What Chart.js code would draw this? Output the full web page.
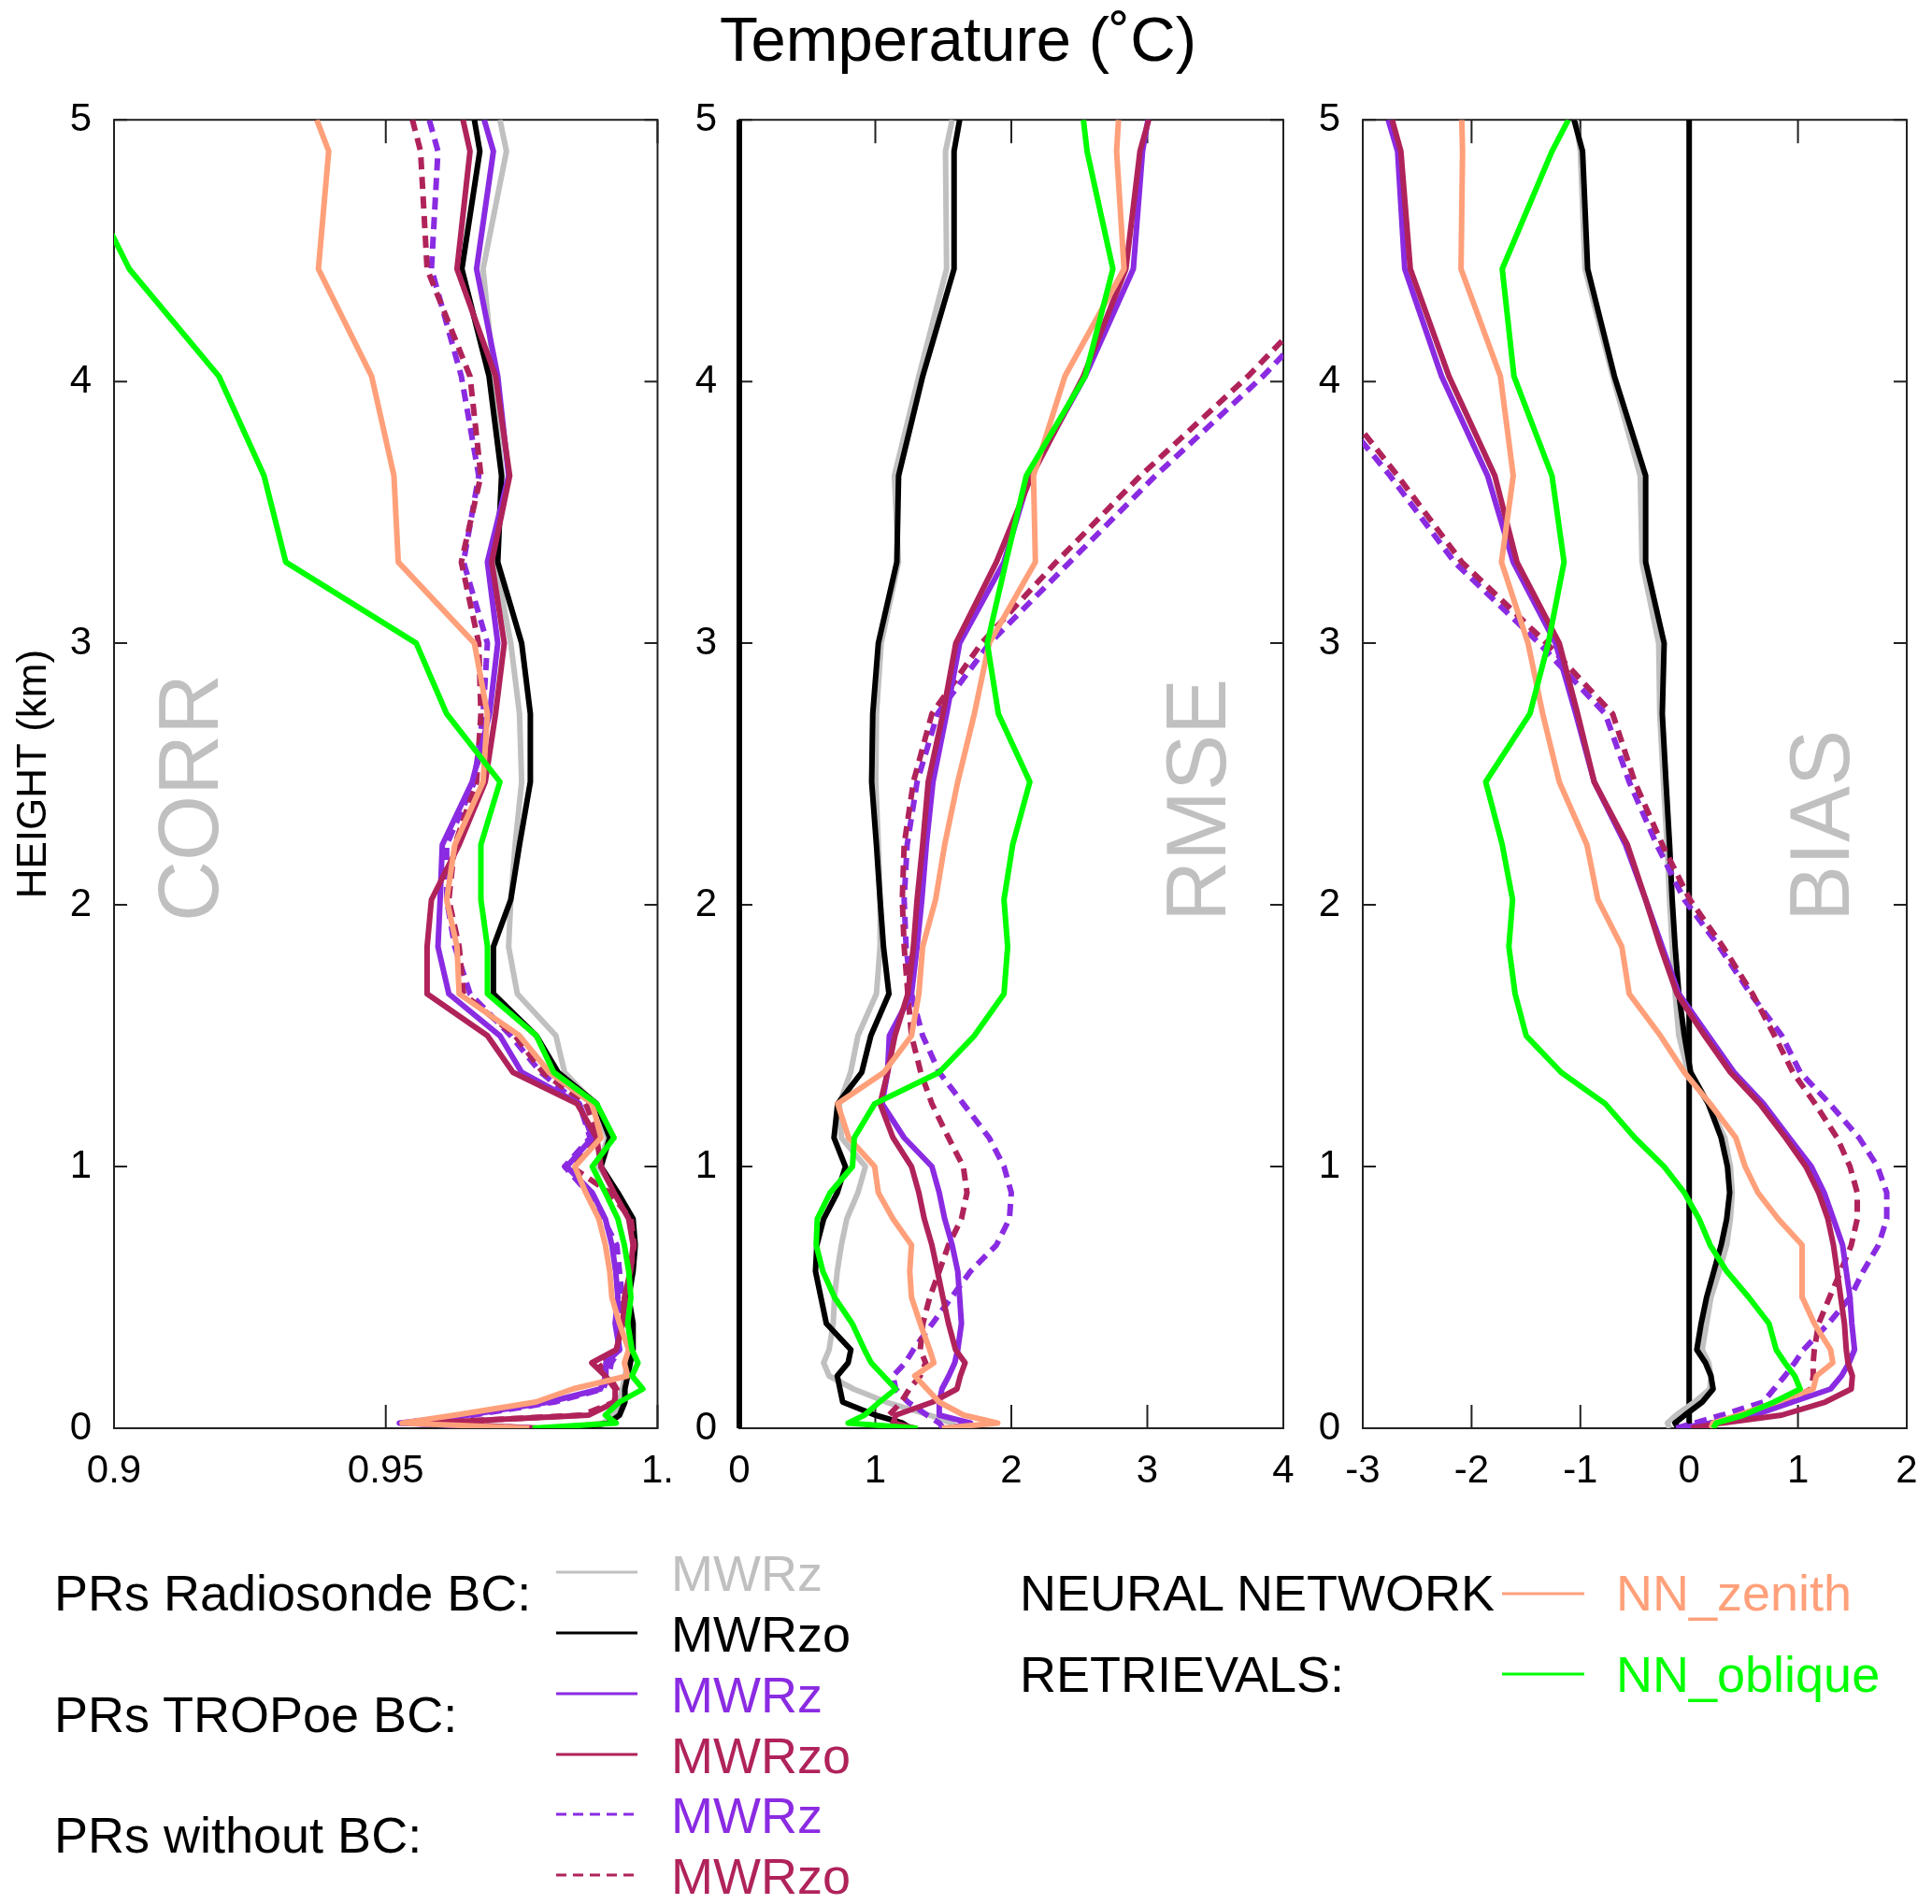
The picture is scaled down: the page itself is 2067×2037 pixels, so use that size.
<!DOCTYPE html>
<html>
<head>
<meta charset="utf-8">
<script src="https://cdn.jsdelivr.net/npm/chart.js@4.4.1/dist/chart.umd.min.js"></script>
<style>
  body { margin:0; background:#fff; width:2067px; height:2037px; position:relative; overflow:hidden;
         font-family:"Liberation Sans", Arial, sans-serif; }
  canvas { position:absolute; top:87px; }
  .t { position:absolute; white-space:nowrap; font-size:54px; line-height:54px; color:#000; }
  svg { position:absolute; left:0; top:0; }
</style>
</head>
<body>

<div class="t" style="left:0; width:2050px; text-align:center; top:8px; font-size:67px; line-height:67px;">Temperature (˚C)</div>

<canvas id="corr"></canvas>
<canvas id="rmse"></canvas>
<canvas id="bias"></canvas>

<!-- legend -->
<svg width="2067" height="2037">
  <line x1="595" y1="1682" x2="682" y2="1682" stroke="#c0c0c0" stroke-width="3"/>
  <line x1="595" y1="1747" x2="682" y2="1747" stroke="#000000" stroke-width="3"/>
  <line x1="595" y1="1812" x2="682" y2="1812" stroke="#8a2be2" stroke-width="3"/>
  <line x1="595" y1="1877" x2="682" y2="1877" stroke="#b0235a" stroke-width="3"/>
  <line x1="595" y1="1941" x2="682" y2="1941" stroke="#8a2be2" stroke-width="3" stroke-dasharray="11 7"/>
  <line x1="595" y1="2006" x2="682" y2="2006" stroke="#b0235a" stroke-width="3" stroke-dasharray="11 7"/>
  <line x1="1607" y1="1705" x2="1695" y2="1705" stroke="#ffa07a" stroke-width="3"/>
  <line x1="1607" y1="1791" x2="1695" y2="1791" stroke="#00ff00" stroke-width="3"/>
</svg>
<div class="t" style="left:58px; top:1677px;">PRs Radiosonde BC:</div>
<div class="t" style="left:58px; top:1807px;">PRs TROPoe BC:</div>
<div class="t" style="left:58px; top:1936px;">PRs without BC:</div>
<div class="t" style="left:718px; top:1656px; color:#c0c0c0;">MWRz</div>
<div class="t" style="left:718px; top:1721px;">MWRzo</div>
<div class="t" style="left:718px; top:1786px; color:#8a2be2;">MWRz</div>
<div class="t" style="left:718px; top:1851px; color:#b0235a;">MWRzo</div>
<div class="t" style="left:718px; top:1915px; color:#8a2be2;">MWRz</div>
<div class="t" style="left:718px; top:1980px; color:#b0235a;">MWRzo</div>
<div class="t" style="left:1091px; top:1677px;">NEURAL NETWORK</div>
<div class="t" style="left:1091px; top:1764px;">RETRIEVALS:</div>
<div class="t" style="left:1729px; top:1677px; color:#ffa07a;">NN_zenith</div>
<div class="t" style="left:1729px; top:1764px; color:#00ff00;">NN_oblique</div>

<script>
/* ---------- data ---------- */
// profile levels (km), shared by every series
const heights = [0, 0.02, 0.05, 0.1, 0.15, 0.2, 0.25, 0.3, 0.4, 0.5, 0.6, 0.7, 0.8, 0.9, 1.0, 1.11, 1.24, 1.36,
                 1.5, 1.66, 1.84, 2.02, 2.23, 2.47, 2.73, 3.0, 3.31, 3.64, 4.02, 4.43, 4.88, 5.0];

const heightTicks = [0, 1, 2, 3, 4, 5];
const corrTicks = [0.9, 0.95, 1.0];
const corrTickLabels = ['0.9', '0.95', '1.'];
const rmseTicks = [0, 1, 2, 3, 4];
const rmseTickLabels = ['0', '1', '2', '3', '4'];
const biasTicks = [-3, -2, -1, 0, 1, 2];
const biasTickLabels = ['-3', '-2', '-1', '0', '1', '2'];

// CORR
const corrRadZ   = [0.982, 0.99, 0.992, 0.993, 0.9935, 0.994, 0.9945, 0.995, 0.995, 0.9945, 0.9952, 0.9957, 0.9947, 0.9923, 0.9892, 0.9908, 0.9884, 0.9829, 0.9813, 0.9742, 0.9726, 0.973, 0.9738, 0.975, 0.9746, 0.973, 0.9702, 0.9714, 0.9699, 0.9679, 0.9722, 0.971];
const corrRadZO  = [0.985, 0.991, 0.993, 0.994, 0.994, 0.9945, 0.995, 0.9955, 0.9955, 0.9947, 0.9955, 0.9959, 0.9955, 0.9927, 0.9896, 0.9912, 0.9888, 0.9817, 0.9777, 0.9698, 0.9698, 0.973, 0.9746, 0.9766, 0.9766, 0.975, 0.9706, 0.9713, 0.969, 0.964, 0.9673, 0.9663];
const corrTropZ  = [0.9765, 0.9525, 0.965, 0.98, 0.9895, 0.9905, 0.9905, 0.993, 0.9922, 0.9927, 0.9923, 0.9916, 0.9904, 0.988, 0.9833, 0.988, 0.9856, 0.975, 0.971, 0.9616, 0.9596, 0.96, 0.9604, 0.9659, 0.9691, 0.9706, 0.9687, 0.9726, 0.9706, 0.9667, 0.9698, 0.9681];
const corrTropZO = [0.978, 0.9569, 0.9873, 0.9922, 0.9922, 0.9904, 0.9879, 0.9924, 0.9936, 0.9939, 0.995, 0.9955, 0.9947, 0.992, 0.9896, 0.9888, 0.9852, 0.9734, 0.9687, 0.9576, 0.9576, 0.9584, 0.9635, 0.9683, 0.9702, 0.9718, 0.9695, 0.9728, 0.9702, 0.9631, 0.9655, 0.9642];
const corrRawZ   = [0.9765, 0.953, 0.966, 0.981, 0.99, 0.991, 0.9915, 0.993, 0.9925, 0.9935, 0.993, 0.9925, 0.99, 0.9872, 0.9829, 0.9876, 0.9856, 0.9785, 0.973, 0.9655, 0.9627, 0.9612, 0.9612, 0.9663, 0.9679, 0.9687, 0.9643, 0.9671, 0.9639, 0.9584, 0.9596, 0.958];
const corrRawZO  = [0.978, 0.9575, 0.986, 0.992, 0.9925, 0.991, 0.989, 0.9925, 0.9935, 0.9943, 0.995, 0.9957, 0.9951, 0.9912, 0.9841, 0.9892, 0.9868, 0.9789, 0.9738, 0.9643, 0.9635, 0.9616, 0.9627, 0.9667, 0.9675, 0.9671, 0.9639, 0.9675, 0.9655, 0.9576, 0.9564, 0.9549];
const corrNNz    = [0.9764, 0.953, 0.9627, 0.9776, 0.9844, 0.9945, 0.9939, 0.9947, 0.993, 0.9916, 0.9912, 0.9904, 0.9892, 0.9868, 0.9848, 0.9896, 0.988, 0.9801, 0.9746, 0.9635, 0.9631, 0.9612, 0.9627, 0.9679, 0.9687, 0.9663, 0.9523, 0.9515, 0.9474, 0.9376, 0.9395, 0.9373];
const corrNNo    = [0.977, 0.9924, 0.9904, 0.993, 0.9973, 0.9953, 0.9964, 0.9953, 0.9945, 0.9951, 0.9947, 0.9939, 0.9927, 0.9904, 0.988, 0.992, 0.9888, 0.9809, 0.9777, 0.9687, 0.9687, 0.9675, 0.9675, 0.971, 0.9612, 0.9556, 0.9316, 0.9276, 0.9193, 0.9028, 0.892, 0.89];

// RMSE
const rmseRadZ   = [1.6, 1.56, 1.4, 1.08, 0.84, 0.66, 0.62, 0.66, 0.69, 0.7, 0.72, 0.75, 0.79, 0.872, 0.927, 0.75, 0.736, 0.818, 0.872, 1.008, 1.035, 1.035, 1.022, 1.003, 1.008, 1.043, 1.17, 1.14, 1.32, 1.524, 1.516, 1.565];
const rmseRadZO  = [1.26, 1.2, 1.0, 0.76, 0.74, 0.72, 0.8, 0.82, 0.64, 0.6, 0.56, 0.57, 0.62, 0.72, 0.78, 0.696, 0.723, 0.9, 0.967, 1.1, 1.06, 1.035, 1.008, 0.973, 0.981, 1.022, 1.158, 1.171, 1.348, 1.579, 1.579, 1.62];
const rmseTropZ  = [1.55, 1.7, 1.47, 1.47, 1.49, 1.54, 1.584, 1.606, 1.633, 1.62, 1.606, 1.565, 1.51, 1.47, 1.416, 1.212, 1.05, 1.09, 1.103, 1.266, 1.307, 1.342, 1.375, 1.424, 1.524, 1.62, 1.946, 2.136, 2.543, 2.897, 2.965, 3.005];
const rmseTropZO = [1.29, 1.13, 1.15, 1.42, 1.6, 1.625, 1.66, 1.59, 1.538, 1.497, 1.457, 1.416, 1.36, 1.32, 1.266, 1.13, 1.035, 1.09, 1.144, 1.239, 1.28, 1.307, 1.348, 1.389, 1.497, 1.592, 1.89, 2.15, 2.53, 2.842, 2.946, 3.01];
const rmseRawZ   = [1.5, 1.47, 1.38, 1.24, 1.15, 1.13, 1.22, 1.28, 1.42, 1.56, 1.7, 1.89, 1.986, 2.0, 1.946, 1.837, 1.647, 1.47, 1.348, 1.266, 1.226, 1.212, 1.234, 1.307, 1.457, 1.84, 2.43, 3.06, 3.85, 4.6, 5.3, 5.5];
const rmseRawZO  = [1.2, 1.15, 1.1, 1.19, 1.25, 1.33, 1.37, 1.33, 1.35, 1.4, 1.47, 1.538, 1.633, 1.674, 1.647, 1.538, 1.416, 1.334, 1.266, 1.239, 1.212, 1.198, 1.212, 1.28, 1.416, 1.78, 2.33, 2.95, 3.74, 4.5, 5.2, 5.4];
const rmseNNz    = [1.49, 1.9, 1.65, 1.47, 1.38, 1.29, 1.43, 1.4, 1.33, 1.266, 1.253, 1.266, 1.13, 1.022, 0.995, 0.804, 0.723, 1.063, 1.266, 1.32, 1.348, 1.443, 1.51, 1.606, 1.728, 1.837, 2.177, 2.163, 2.394, 2.829, 2.774, 2.788];
const rmseNNo    = [1.31, 0.8, 0.92, 1.03, 1.15, 1.06, 0.97, 0.92, 0.83, 0.7, 0.614, 0.565, 0.573, 0.668, 0.832, 0.845, 0.995, 1.47, 1.728, 1.946, 1.973, 1.946, 2.01, 2.136, 1.905, 1.823, 1.96, 2.11, 2.543, 2.747, 2.557, 2.53];

// BIAS
const biasRadZ   = [-0.18, -0.2, -0.12, 0.05, 0.19, 0.2, 0.18, 0.12, 0.16, 0.2, 0.277, 0.345, 0.379, 0.396, 0.379, 0.328, 0.176, -0.01, -0.095, -0.129, -0.156, -0.18, -0.203, -0.237, -0.27, -0.28, -0.433, -0.45, -0.703, -0.957, -1.0, -1.042];
const biasRadZO  = [-0.1, -0.13, -0.04, 0.12, 0.22, 0.2, 0.15, 0.07, 0.11, 0.16, 0.227, 0.294, 0.345, 0.372, 0.352, 0.294, 0.176, 0.014, -0.044, -0.095, -0.129, -0.156, -0.18, -0.213, -0.247, -0.23, -0.4, -0.4, -0.687, -0.933, -0.98, -1.058];
const biasTropZ  = [-0.09, 0.2, 0.6, 0.95, 1.3, 1.4, 1.47, 1.52, 1.495, 1.478, 1.444, 1.41, 1.326, 1.241, 1.123, 0.92, 0.683, 0.413, 0.176, -0.095, -0.247, -0.4, -0.585, -0.873, -1.042, -1.228, -1.617, -1.853, -2.276, -2.614, -2.68, -2.766];
const biasTropZO = [0.02, 0.3, 0.85, 1.25, 1.49, 1.5, 1.46, 1.444, 1.427, 1.393, 1.36, 1.326, 1.275, 1.19, 1.072, 0.886, 0.649, 0.379, 0.142, -0.112, -0.264, -0.4, -0.568, -0.873, -1.025, -1.194, -1.583, -1.786, -2.208, -2.563, -2.65, -2.73];
const biasRawZ   = [-0.12, 0.05, 0.3, 0.68, 0.78, 0.88, 0.97, 1.05, 1.28, 1.48, 1.6, 1.74, 1.816, 1.816, 1.731, 1.562, 1.292, 1.021, 0.852, 0.565, 0.277, -0.044, -0.298, -0.551, -0.771, -1.38, -2.158, -2.75, -3.5, -4.2, -4.9, -5.1];
const biasRawZO  = [0.0, 0.2, 0.6, 0.9, 1.12, 1.14, 1.14, 1.15, 1.19, 1.29, 1.393, 1.49, 1.545, 1.545, 1.478, 1.36, 1.157, 0.954, 0.785, 0.582, 0.311, 0.007, -0.247, -0.5, -0.703, -1.31, -2.09, -2.68, -3.4, -4.1, -4.8, -5.0];
const biasNNz    = [0.2, 0.22, 0.45, 0.8, 1.14, 1.17, 1.32, 1.3, 1.15, 1.04, 1.038, 1.038, 0.818, 0.632, 0.514, 0.429, 0.193, -0.044, -0.264, -0.551, -0.619, -0.839, -0.94, -1.194, -1.346, -1.481, -1.725, -1.617, -1.735, -2.097, -2.083, -2.09];
const biasNNo    = [0.22, 0.25, 0.5, 0.78, 1.02, 0.97, 0.88, 0.8, 0.734, 0.548, 0.345, 0.193, 0.091, -0.044, -0.23, -0.5, -0.771, -1.177, -1.498, -1.6, -1.657, -1.623, -1.718, -1.87, -1.464, -1.295, -1.15, -1.261, -1.61, -1.718, -1.261, -1.11];

// vertical reference line (x = 0) for RMSE and BIAS
const zeroLineX = [0, 0];
const zeroLineY = [0, 5];

/* ---------- styles ---------- */
const FONT = '"Liberation Sans", Arial, sans-serif';
const C_GRAY = '#c0c0c0', C_BLACK = '#000000', C_PURPLE = '#8a2be2', C_CRIMSON = '#b0235a',
      C_SALMON = '#ffa07a', C_GREEN = '#00ff00';
const DASH = [13, 8];

function profile(values, color, dash) {
    return {
        data: values.map((v, i) => ({ x: v, y: heights[i] })),
        showLine: true,
        borderColor: color,
        borderWidth: 6,
        borderDash: dash || [],
        borderJoinStyle: 'round',
        pointRadius: 0,
        tension: 0
    };
}

/* ---------- frame, inside ticks, panel name ---------- */
const framePlugin = {
    id: 'frame',
    beforeDatasetsDraw(chart, args, opts) {
        const { ctx, chartArea: a, scales } = chart;
        ctx.save();
        // panel name, rotated
        ctx.fillStyle = C_GRAY;
        ctx.font = '90px ' + FONT;
        const nx = opts.nameSide === 'left' ? a.left + opts.nameOffset : a.right - opts.nameOffset;
        ctx.translate(nx, a.bottom - 542);
        ctx.rotate(-Math.PI / 2);
        ctx.textBaseline = 'alphabetic';
        ctx.fillText(opts.name, 0, 0);
        ctx.restore();

        ctx.save();
        ctx.strokeStyle = '#222';
        ctx.lineWidth = 2;
        ctx.strokeRect(a.left, a.top, a.right - a.left, a.bottom - a.top);
        ctx.beginPath();
        scales.y.ticks.forEach(t => {
            const y = scales.y.getPixelForValue(t.value);
            ctx.moveTo(a.left, y); ctx.lineTo(a.left + 14, y);
            ctx.moveTo(a.right, y); ctx.lineTo(a.right - 14, y);
        });
        scales.x.ticks.forEach(t => {
            const x = scales.x.getPixelForValue(t.value);
            ctx.moveTo(x, a.bottom); ctx.lineTo(x, a.bottom - 25);
            ctx.moveTo(x, a.top); ctx.lineTo(x, a.top + 25);
        });
        ctx.stroke();
        ctx.restore();
    }
};

function makePanel(id, left, axisW, padR, xMin, xMax, xTicks, xLabels, name, nameSide, nameOffset, datasets, yTitle) {
    const canvas = document.getElementById(id);
    canvas.width = axisW + 582 + padR;
    canvas.height = 1533;
    canvas.style.left = left + 'px';

    new Chart(canvas, {
        type: 'scatter',
        data: { datasets: datasets },
        options: {
            responsive: false,
            animation: false,
            devicePixelRatio: 1,
            layout: { padding: { top: 15, right: padR, left: 0, bottom: 0 } },
            plugins: {
                legend: { display: false },
                tooltip: { enabled: false },
                frame: { name: name, nameSide: nameSide, nameOffset: nameOffset }
            },
            scales: {
                x: {
                    type: 'linear', min: xMin, max: xMax,
                    afterBuildTicks: s => { s.ticks = xTicks.map(v => ({ value: v })); },
                    afterFit: s => { s.height = 92; },
                    grid: { display: false },
                    border: { display: false },
                    ticks: {
                        autoSkip: false, maxRotation: 0, padding: 13, color: '#000',
                        font: { size: 42, family: FONT },
                        callback: (v, i) => xLabels[i]
                    }
                },
                y: {
                    type: 'linear', min: 0, max: 5,
                    afterBuildTicks: s => { s.ticks = heightTicks.map(v => ({ value: v })); },
                    afterFit: s => { s.width = axisW; },
                    grid: { display: false },
                    border: { display: false },
                    ticks: {
                        padding: 16, color: '#000',
                        font: { size: 42, family: FONT },
                        callback: v => String(v)
                    },
                    title: {
                        display: !!yTitle, text: yTitle || '', color: '#000',
                        font: { size: 44, family: FONT },
                        padding: { top: 10, bottom: 0 }
                    }
                }
            }
        },
        plugins: [framePlugin]
    });
}

function zeroLine() {
    return {
        data: zeroLineX.map((v, i) => ({ x: v, y: zeroLineY[i] })),
        showLine: true, borderColor: C_BLACK, borderWidth: 6, pointRadius: 0, clip: 10
    };
}

// first dataset is drawn on top
makePanel('corr', 0, 122, 30, 0.9, 1.0, corrTicks, corrTickLabels, 'CORR', 'left', 111, [
    profile(corrNNo, C_GREEN), profile(corrNNz, C_SALMON),
    profile(corrTropZO, C_CRIMSON), profile(corrTropZ, C_PURPLE),
    profile(corrRawZO, C_CRIMSON, DASH), profile(corrRawZ, C_PURPLE, DASH),
    profile(corrRadZO, C_BLACK), profile(corrRadZ, C_GRAY)
], 'HEIGHT (km)');

makePanel('rmse', 721, 70, 30, 0, 4, rmseTicks, rmseTickLabels, 'RMSE', 'right', 62, [
    profile(rmseNNo, C_GREEN), profile(rmseNNz, C_SALMON),
    profile(rmseTropZO, C_CRIMSON), profile(rmseTropZ, C_PURPLE),
    profile(rmseRawZO, C_CRIMSON, DASH), profile(rmseRawZ, C_PURPLE, DASH),
    profile(rmseRadZO, C_BLACK), profile(rmseRadZ, C_GRAY), zeroLine()
]);

makePanel('bias', 1388, 70, 25, -3, 2, biasTicks, biasTickLabels, 'BIAS', 'right', 62, [
    profile(biasNNo, C_GREEN), profile(biasNNz, C_SALMON),
    profile(biasTropZO, C_CRIMSON), profile(biasTropZ, C_PURPLE),
    profile(biasRawZO, C_CRIMSON, DASH), profile(biasRawZ, C_PURPLE, DASH),
    profile(biasRadZO, C_BLACK), profile(biasRadZ, C_GRAY), zeroLine()
]);
</script>
</body>
</html>
